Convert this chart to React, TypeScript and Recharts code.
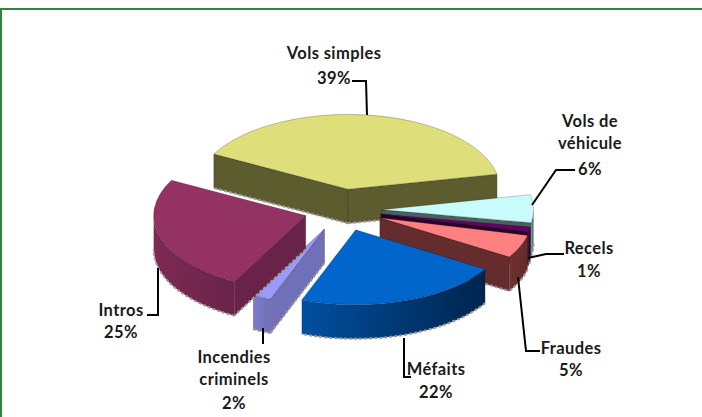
import React from 'react';
import { PieChart, Pie, Cell } from 'recharts';

const categories = ['Vols simples', 'Vols de\nvéhicule', 'Recels', 'Fraudes', 'Méfaits', 'Incendies\ncriminels', 'Intros'];
const shares = [39, 6, 1, 5, 22, 2, 25];

const topColors = ['#DEDE7A', '#C8FBFB', '#660066', '#FF8080', '#0066CC', '#9999FF', '#953264'];
const wallLight = ['#5C5C2E', '#6F9090', '#3A003A', '#6E3030', '#00509F', '#7C7CCB', '#7E2A55'];
const wallDark = ['#5C5C2E', '#4A6060', '#2A002A', '#642C2C', '#00244F', '#7070B8', '#6A2348'];
const explode = [0.28, 0.26, 0.26, 0.27, 0.28, 0.28, 0.25];

const data = categories.map((name, i) => ({ name, value: shares[i] }));

const FLATTEN = 0.493; // ellipse height / width
const DEPTH = 34;
const RAD = Math.PI / 180;

// label placement: centre x, baseline of each line, then the leader polyline
const labelLayout: Record<string, { x: number; ys: number[]; leader: string }> = {
  'Vols simples': { x: 334, ys: [59, 84], leader: '352,81 366,81 367,115' },
  'Vols de\nvéhicule': { x: 590, ys: [127, 149, 175], leader: '575,170 556,170 532,205' },
  Recels: { x: 589, ys: [254, 277], leader: '564,254 546,254 528,258' },
  Fraudes: { x: 571, ys: [354, 376], leader: '540,351 526,351 518,277' },
  'Méfaits': { x: 436, ys: [375, 398], leader: '411,377 404,377 404,338' },
  'Incendies\ncriminels': { x: 234, ys: [363, 385, 409], leader: '263,328 263,344' },
  Intros: { x: 121, ys: [316, 338], leader: '147,315 158,315 158,268' },
};

const Wedge3D = (props: any) => {
  const { cx, cy, outerRadius, startAngle, endAngle, midAngle, fill, index } = props;
  const rx = outerRadius;
  const ry = outerRadius * FLATTEN;
  const mid = midAngle ?? (startAngle + endAngle) / 2;
  const ax = cx + explode[index] * rx * Math.cos(mid * RAD);
  const ay = cy - explode[index] * ry * Math.sin(mid * RAD);
  const pt = (deg: number) => [ax + rx * Math.cos(deg * RAD), ay - ry * Math.sin(deg * RAD)];
  const [sx, sy] = pt(startAngle);
  const [ex, ey] = pt(endAngle);
  const large = Math.abs(startAngle - endAngle) > 180 ? 1 : 0;
  const top = `M${ax},${ay} L${sx},${sy} A${rx},${ry} 0 ${large} 1 ${ex},${ey} Z`;

  // a cut wall shows when the wedge lies above it on screen
  const cutVisible = (deg: number) => {
    const [px, py] = pt(deg);
    const [mx, my] = pt(mid);
    let nx = -(py - ay);
    let ny = px - ax;
    if (nx * (mx - ax) + ny * (my - ay) > 0) {
      nx = -nx;
      ny = -ny;
    }
    return ny > 0;
  };
  const cut = (deg: number) => {
    const [px, py] = pt(deg);
    return `M${ax},${ay} L${px},${py} L${px},${py + DEPTH} L${ax},${ay + DEPTH} Z`;
  };
  const cutEdge = (deg: number) => {
    const [px, py] = pt(deg);
    return `M${ax},${ay + DEPTH} L${px},${py + DEPTH}`;
  };

  // outer wall: the part of the arc on the front half of the ellipse
  const arcs: { d: string; edge: string }[] = [];
  for (const k of [-720, -360, 0]) {
    const hi = Math.min(startAngle, 360 + k);
    const lo = Math.max(endAngle, 180 + k);
    if (hi > lo) {
      const [x1, y1] = pt(hi);
      const [x2, y2] = pt(lo);
      arcs.push({
        d: `M${x1},${y1} A${rx},${ry} 0 0 1 ${x2},${y2} L${x2},${y2 + DEPTH} A${rx},${ry} 0 0 0 ${x1},${y1 + DEPTH} Z`,
        edge: `M${x1},${y1 + DEPTH} A${rx},${ry} 0 0 1 ${x2},${y2 + DEPTH}`,
      });
    }
  }

  const gradId = `wall-${index}`;
  return (
    <g>
      <defs>
        <linearGradient id={gradId} x1="0" y1="0" x2="1" y2="0">
          <stop offset="0%" stopColor={wallLight[index]} />
          <stop offset="100%" stopColor={wallDark[index]} />
        </linearGradient>
      </defs>
      {[startAngle, endAngle].filter(cutVisible).map((deg) => (
        <g key={deg}>
          <path d={cut(deg)} fill={wallDark[index]} stroke="#2b2b1c" strokeWidth={0.6} strokeOpacity={0.6} />
          <path d={cutEdge(deg)} fill="none" stroke="#9a9a9a" strokeWidth={2} strokeDasharray="3 2" />
        </g>
      ))}
      {arcs.map((a) => (
        <g key={a.d}>
          <path d={a.d} fill={`url(#${gradId})`} />
          <path d={a.edge} fill="none" stroke="#9a9a9a" strokeWidth={2} strokeDasharray="3 2" />
        </g>
      ))}
      <path d={top} fill={fill} stroke="#000" strokeOpacity={0.35} strokeWidth={0.6} />
    </g>
  );
};

const renderLabel = (props: any) => {
  const { name, value } = props;
  const spot = labelLayout[name];
  if (!spot) return null;
  const lines = [...String(name).split('\n'), `${value}%`];
  return (
    <g>
      <polyline points={spot.leader} fill="none" stroke="#000" strokeWidth={2} />
      {lines.map((line, i) => (
        <text
          key={line}
          x={spot.x}
          y={spot.ys[i]}
          textAnchor="middle"
          fontFamily="Lato, sans-serif"
          fontWeight={700}
          fontSize={16.5}
          letterSpacing={0.4}
          fill="#1a1a1a"
        >
          {line}
        </text>
      ))}
    </g>
  );
};

export default function App() {
  return (
    <div style={{ position: 'absolute', left: 0, top: 0, width: 702, height: 417, background: '#fff', overflow: 'hidden' }}>
      <div style={{ position: 'absolute', left: 0, top: 8, width: 702, height: 2, background: '#2E8540' }} />
      <div style={{ position: 'absolute', left: 0, top: 8, width: 2, height: 409, background: '#2E8540' }} />
      <PieChart width={702} height={417} margin={{ top: 0, right: 0, bottom: 0, left: 0 }}>
        <Pie
          data={data}
          dataKey="value"
          nameKey="name"
          cx={342}
          cy={210}
          innerRadius={0}
          outerRadius={152}
          startAngle={152}
          endAngle={-208}
          stroke="none"
          shape={Wedge3D}
          label={renderLabel}
          labelLine={false}
          isAnimationActive={false}
        >
          {data.map((d, i) => (
            <Cell key={d.name} fill={topColors[i]} />
          ))}
        </Pie>
      </PieChart>
    </div>
  );
}
